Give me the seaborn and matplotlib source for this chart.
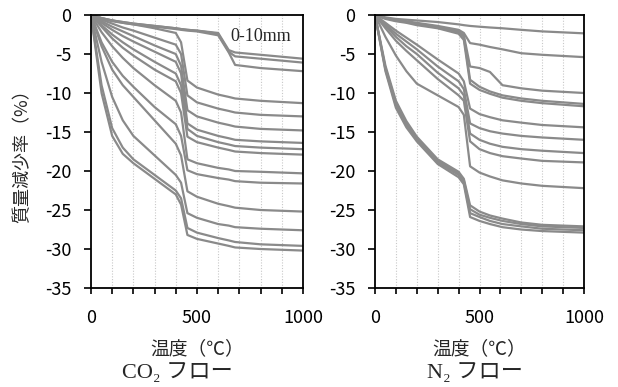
import numpy as np
import pandas as pd
import matplotlib
matplotlib.use("Agg")
import matplotlib.pyplot as plt
import seaborn as sns

sns.set_theme(style="white")
plt.rcParams["font.family"] = ["Noto Sans CJK JP", "DejaVu Sans"]

# ---- thermogravimetric mass-loss curves (%), CO2 atmosphere ----
temp_co2 = [0, 50, 100, 150, 200, 300, 400, 425, 455, 500, 600, 650, 680, 800, 1000]
loss_co2 = [
    [0, -0.4, -0.7, -0.9, -1.1, -1.4, -1.7, -1.8, -1.9, -2.0, -2.3, -4.5, -4.8, -5.1, -5.6],
    [0, -0.4, -0.7, -0.9, -1.1, -1.4, -1.7, -1.8, -1.9, -2.0, -2.4, -4.7, -5.3, -5.6, -6.1],
    [0, -0.5, -0.8, -1.0, -1.2, -1.5, -1.8, -1.9, -2.0, -2.1, -2.6, -4.8, -6.4, -6.8, -7.2],
    [0, -0.4, -0.7, -1.0, -1.2, -1.7, -2.3, -3.5, -8.4, -9.3, -10.2, -10.5, -10.7, -11.0, -11.3],
    [0, -0.6, -1.1, -1.6, -2.0, -2.9, -3.8, -5.0, -10.3, -11.2, -12.0, -12.3, -12.5, -12.8, -13.0],
    [0, -0.8, -1.5, -2.1, -2.7, -3.9, -5.0, -6.5, -12.2, -13.0, -13.8, -14.1, -14.3, -14.6, -14.8],
    [0, -1.0, -1.9, -2.7, -3.4, -4.7, -6.0, -7.5, -13.9, -14.7, -15.5, -15.8, -16.0, -16.2, -16.4],
    [0, -1.3, -2.5, -3.5, -4.4, -6.0, -7.5, -9.0, -14.6, -15.5, -16.3, -16.6, -16.8, -17.0, -17.2],
    [0, -1.5, -3.0, -4.2, -5.2, -7.0, -8.5, -10.0, -15.6, -16.3, -17.0, -17.3, -17.5, -17.7, -17.9],
    [0, -2.2, -4.0, -5.5, -6.8, -9.0, -11.0, -12.5, -18.5, -19.0, -19.6, -19.8, -20.0, -20.1, -20.3],
    [0, -3.5, -6.0, -7.8, -9.2, -11.8, -14.0, -15.5, -19.9, -20.4, -20.9, -21.1, -21.3, -21.5, -21.6],
    [0, -4.0, -7.0, -9.0, -10.5, -13.5, -16.5, -18.0, -22.6, -23.3, -24.2, -24.5, -24.7, -25.0, -25.2],
    [0, -6.0, -10.5, -13.5, -15.5, -18.0, -20.5, -21.5, -25.4, -26.0, -26.8, -27.0, -27.2, -27.4, -27.6],
    [0, -9.0, -14.5, -17.0, -18.5, -20.5, -22.5, -23.5, -27.3, -27.9, -28.6, -28.9, -29.1, -29.4, -29.6],
    [0, -10.0, -15.5, -17.8, -19.0, -21.0, -23.0, -24.3, -28.2, -28.7, -29.3, -29.6, -29.8, -30.0, -30.2],
]

# ---- thermogravimetric mass-loss curves (%), N2 atmosphere ----
temp_n2 = [0, 50, 100, 150, 200, 300, 400, 425, 455, 500, 550, 610, 700, 800, 1000]
loss_n2 = [
    [0, -0.3, -0.5, -0.6, -0.7, -0.9, -1.2, -1.3, -1.4, -1.5, -1.6, -1.7, -1.9, -2.1, -2.35],
    [0, -0.4, -0.6, -0.8, -1.0, -1.4, -1.9, -2.3, -3.6, -3.8, -4.1, -4.4, -4.9, -5.1, -5.4],
    [0, -0.4, -0.7, -0.9, -1.1, -1.5, -2.1, -2.6, -6.6, -6.8, -7.3, -9.0, -9.4, -9.7, -10.0],
    [0, -0.4, -0.7, -0.9, -1.2, -1.6, -2.2, -2.8, -8.3, -9.2, -9.8, -10.3, -10.7, -11.0, -11.4],
    [0, -0.5, -0.8, -1.0, -1.3, -1.7, -2.4, -3.2, -8.8, -9.6, -10.1, -10.6, -11.0, -11.3, -11.7],
    [0, -1.0, -2.0, -2.9, -3.8, -5.7, -7.5, -8.5, -12.0, -12.7, -13.1, -13.5, -13.8, -14.1, -14.4],
    [0, -1.2, -2.4, -3.4, -4.4, -6.6, -8.5, -9.5, -13.9, -14.5, -14.9, -15.2, -15.5, -15.7, -16.0],
    [0, -1.4, -2.8, -4.0, -5.0, -7.4, -9.4, -10.3, -15.2, -16.0, -16.5, -16.9, -17.2, -17.4, -17.7],
    [0, -1.7, -3.3, -4.6, -5.8, -8.2, -10.3, -11.0, -16.2, -17.2, -17.7, -18.1, -18.4, -18.7, -18.9],
    [0, -2.8, -5.2, -7.2, -8.8, -10.3, -11.8, -12.8, -19.4, -20.2, -20.7, -21.2, -21.6, -21.9, -22.2],
    [0, -6.5, -11.0, -13.6, -15.6, -18.5, -20.1, -21.0, -24.4, -25.2, -25.7, -26.1, -26.6, -26.9, -27.1],
    [0, -6.8, -11.3, -13.9, -15.8, -18.7, -20.3, -21.2, -24.9, -25.6, -26.0, -26.4, -26.8, -27.1, -27.3],
    [0, -7.0, -11.6, -14.1, -16.0, -18.9, -20.5, -21.4, -25.4, -25.9, -26.4, -26.8, -27.1, -27.4, -27.6],
    [0, -7.2, -11.9, -14.4, -16.2, -19.1, -20.8, -21.7, -25.9, -26.4, -26.8, -27.2, -27.5, -27.7, -27.9],
]

x_ticks = [0, 500, 1000]
y_ticks = [0, -5, -10, -15, -20, -25, -30, -35]
x_label = "温度（℃）"
y_label = "質量減少率（%）"
panel_gases = ["CO\u2082", "N\u2082"]
panel_suffix = " フロー"
size_label = "0-10mm"

LINE = "#8a8a8a"
SERIF_CJK = ["Liberation Serif", "Noto Sans CJK JP", "DejaVu Sans"]


def to_frame(temps, curves):
    rows = []
    for i, c in enumerate(curves):
        for t, v in zip(temps, c):
            rows.append({"curve": i, "temp": t, "loss": v})
    return pd.DataFrame(rows)


fig = plt.figure(figsize=(6.18, 3.87), dpi=100)
ax1 = fig.add_axes([0.1472, 0.2558, 0.3430, 0.7054])
ax2 = fig.add_axes([0.6068, 0.2558, 0.3382, 0.7054])

for ax, temps, curves, gas, cap_x in [
    (ax1, temp_co2, loss_co2, panel_gases[0], 0.41),
    (ax2, temp_n2, loss_n2, panel_gases[1], 0.478),
]:
    df = to_frame(temps, curves)
    # dotted guide lines every 100 °C
    for g in range(100, 1000, 100):
        ax.axvline(g, color="#c8c8c8", lw=0.8, ls=(0, (1, 1.5)), zorder=0)
    sns.lineplot(data=df, x="temp", y="loss", units="curve", estimator=None,
                 color=LINE, lw=1.6, ax=ax, legend=False, zorder=2)
    ax.set_xlim(0, 1000)
    ax.set_ylim(-35, 0)
    ax.set_xticks(x_ticks)
    ax.set_xticks(range(0, 1001, 100), minor=True)
    ax.set_yticks(y_ticks)
    ax.set_yticklabels([str(v) for v in y_ticks])
    ax.tick_params(axis="x", which="both", direction="out", length=4, width=1.2,
                   colors="black", labelsize=13, pad=11, bottom=True)
    ax.tick_params(axis="y", which="major", direction="out", length=5, width=1.2,
                   colors="black", labelsize=13, pad=9, left=True)
    for s in ax.spines.values():
        s.set_color("black")
        s.set_linewidth(1.3)
    ax.set_xlabel(x_label, fontsize=13.5, labelpad=8)
    ax.set_ylabel("")
    # panel caption: gas formula, then the flow label
    ax.text(cap_x, -0.275, gas + panel_suffix, transform=ax.transAxes,
            ha="center", va="top", fontsize=16, family=SERIF_CJK)

ax1.set_ylabel(y_label, fontsize=13, labelpad=10)
ax1.text(802, -2.7, size_label, ha="center", va="center", fontsize=13,
         family=["Liberation Serif"])

fig.savefig("out.png", dpi=100)
